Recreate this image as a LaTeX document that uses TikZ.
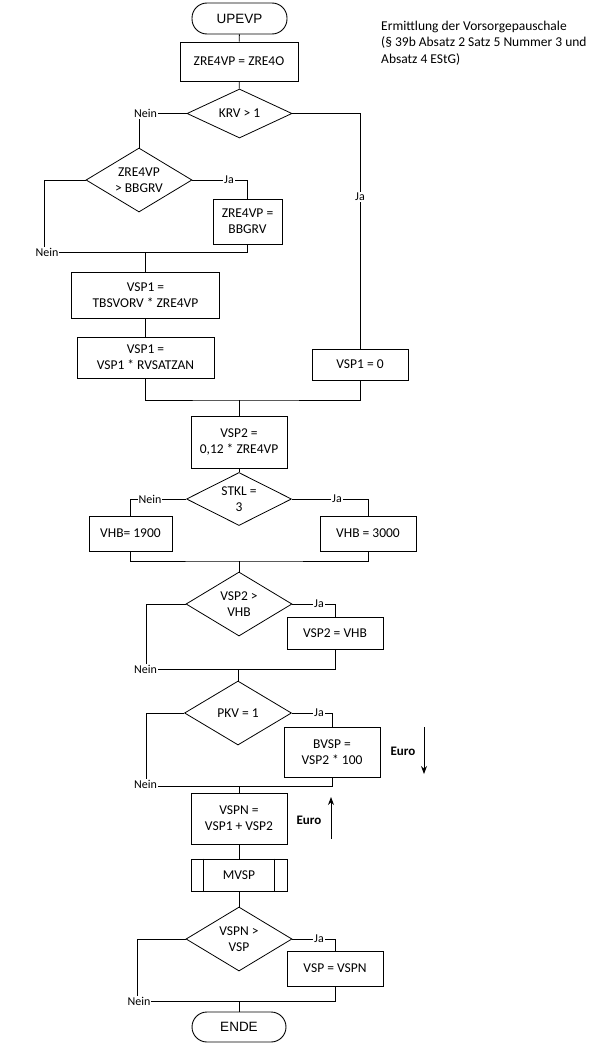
\documentclass[tikz,border=0pt]{standalone}
\usepackage{fontspec}
\setmainfont{Carlito}
\newfontfamily\termfont{Liberation Sans}
\usetikzlibrary{arrows.meta, shapes.geometric}

\begin{document}
\begin{tikzpicture}[
    x=1pt, y=-1pt,
    >={Stealth[length=8pt, width=6pt]},
    every node/.style={font=\fontsize{13.5}{15.7}\selectfont},
    proc/.style={draw, line width=0.9pt, align=center, inner sep=0pt},
    decide/.style={diamond, draw, line width=0.8pt, aspect=2, inner sep=0pt, align=center},
    term/.style={draw, line width=0.9pt, rounded corners=15pt,
                 font=\termfont\fontsize{13.5}{16}\selectfont},
    lbl/.style={fill=white, inner sep=1pt, font=\fontsize{12}{13}\selectfont},
    euro/.style={font=\bfseries\fontsize{13}{15}\selectfont},
  ]

  \useasboundingbox (0,0) rectangle (598,1060);

  % Title
  \node[anchor=north west, align=left, inner sep=0pt,
        font=\fontsize{13.5}{16.3}\selectfont] (title) at (381,21)
    {Ermittlung der Vorsorgepauschale\\(\S\ 39b Absatz 2 Satz 5 Nummer 3 und\\Absatz 4 EStG)};

  % Nodes
  \node[term, minimum width=95pt, minimum height=31pt] (start) at (239.5,18.5) {UPEVP};
  \node[proc, minimum width=118pt, minimum height=39pt] (b1) at (239,61.5) {ZRE4VP = ZRE4O};
  \node[decide, minimum width=105pt, minimum height=49pt] (d1) at (239.5,113.5) {KRV > 1};
  \node[decide, minimum width=106pt, minimum height=64pt] (d2) at (139,180) {ZRE4VP\\> BBGRV};
  \node[proc, minimum width=69pt, minimum height=45pt] (b2) at (247.5,221.5) {ZRE4VP =\\BBGRV};
  \node[proc, minimum width=148pt, minimum height=46pt] (b3) at (145.5,295) {VSP1 =\\TBSVORV * ZRE4VP};
  \node[proc, minimum width=137pt, minimum height=41pt] (b4) at (145.5,357.5) {VSP1 =\\VSP1 * RVSATZAN};
  \node[proc, minimum width=96pt, minimum height=31pt] (b5) at (360,364.5) {VSP1 = 0};
  \node[proc, minimum width=96pt, minimum height=52pt] (b6) at (239,442) {VSP2 =\\0,12 * ZRE4VP};
  \node[decide, minimum width=105pt, minimum height=53pt] (d3) at (239,499) {STKL =\\3};
  \node[proc, minimum width=83pt, minimum height=35pt] (b7) at (130.5,533.5) {VHB= 1900};
  \node[proc, minimum width=96pt, minimum height=35pt] (b8) at (368,533.5) {VHB = 3000};
  \node[decide, minimum width=106pt, minimum height=64pt] (d4) at (239,604) {VSP2 >\\VHB};
  \node[proc, minimum width=96pt, minimum height=32pt] (b9) at (335,633) {VSP2 = VHB};
  \node[decide, minimum width=107pt, minimum height=64pt] (d5) at (238,713) {PKV = 1};
  \node[proc, minimum width=96pt, minimum height=50pt] (b10) at (332,752) {BVSP =\\VSP2 * 100};
  \node[proc, minimum width=96pt, minimum height=51pt] (b11) at (239,818.5) {VSPN =\\VSP1 + VSP2};
  \node[proc, minimum width=96pt, minimum height=32pt] (p1) at (239,875) {MVSP};
  \node[decide, minimum width=106pt, minimum height=64pt] (d6) at (239,939) {VSPN >\\VSP};
  \node[proc, minimum width=96pt, minimum height=35pt] (b12) at (335,968.5) {VSP = VSPN};
  \node[term, minimum width=94pt, minimum height=30pt] (stop) at (239,1027) {ENDE};

  % Subroutine bars
  \draw[line width=0.9pt] ([xshift=13pt]p1.north west) -- ([xshift=13pt]p1.south west);
  \draw[line width=0.9pt] ([xshift=-13pt]p1.north east) -- ([xshift=-13pt]p1.south east);

  % Junctions
  \coordinate (c2) at (44,252);
  \coordinate (m1) at (145.5,252);
  \coordinate (m2) at (239,400);
  \coordinate (m3) at (239,561);
  \coordinate (c4) at (146,669);
  \coordinate (m4) at (238,669);
  \coordinate (c5) at (146,786);
  \coordinate (m5) at (239,786);
  \coordinate (c6) at (137,1001);
  \coordinate (m6) at (239,1001);

  % Edge style
  \tikzset{
    flowline/.style={line width=0.9pt},
  }

  \draw[flowline] (start) -- (b1);
  \draw[flowline] (b1) -- (d1);

  % KRV > 1
  \draw[flowline] (d1.west) -| (d2.north);
  \draw[flowline] (d1.east) -| (b5.north);
  \node[lbl] (n1) at (145.5,113.5) {Nein};
  \node[lbl] (j1) at (360,197) {Ja};

  % ZRE4VP > BBGRV
  \draw[flowline] (d2.east) -| (b2.north);
  \draw[flowline] (d2.west) -| (c2) -| (b2.south);
  \draw[flowline] (m1) -- (b3.north);
  \node[lbl] (j2) at (229,180) {Ja};
  \node[lbl] (n2) at (47,252) {Nein};

  \draw[flowline] (b3) -- (b4);
  \draw[flowline] (b4.south) |- (m2) -| (b5.south);
  \draw[flowline] (m2) -- (b6.north);
  \draw[flowline] (b6) -- (d3);

  % STKL = 3
  \draw[flowline] (d3.west) -| (b7.north);
  \draw[flowline] (d3.east) -| (b8.north);
  \node[lbl] (n3) at (150,499) {Nein};
  \node[lbl] (j3) at (337,499) {Ja};
  \draw[flowline] (b7.south) |- (m3) -| (b8.south);
  \draw[flowline] (m3) -- (d4.north);

  % VSP2 > VHB
  \draw[flowline] (d4.east) -| (b9.north);
  \draw[flowline] (d4.west) -| (c4) -| (b9.south);
  \node[lbl] (j4) at (319,604) {Ja};
  \node[lbl] (n4) at (145.5,669) {Nein};
  \draw[flowline] (m4) -- (d5.north);

  % PKV = 1
  \draw[flowline] (d5.east) -| (b10.north);
  \draw[flowline] (d5.west) -| (c5) -| (b10.south);
  \node[lbl] (j5) at (319,713) {Ja};
  \node[lbl] (n5) at (145.5,784) {Nein};
  \draw[flowline] (m5) -- (b11.north);

  \draw[flowline] (b11) -- (p1);
  \draw[flowline] (p1) -- (d6);

  % VSPN > VSP
  \draw[flowline] (d6.east) -| (b12.north);
  \draw[flowline] (d6.west) -| (c6) -| (b12.south);
  \node[lbl] (j6) at (319,939) {Ja};
  \node[lbl] (n6) at (139,1001) {Nein};
  \draw[flowline] (m6) -- (stop);

  % Euro hints
  \node[euro] (e1) at (403,751) {Euro};
  \coordinate (a1) at (424,727);
  \coordinate (a2) at (424,774);
  \draw[flowline, ->] (a1) -- (a2);

  \node[euro] (e2) at (309,820) {Euro};
  \coordinate (a3) at (331,839);
  \coordinate (a4) at (331,797);
  \draw[flowline, ->] (a3) -- (a4);

\end{tikzpicture}
\end{document}
